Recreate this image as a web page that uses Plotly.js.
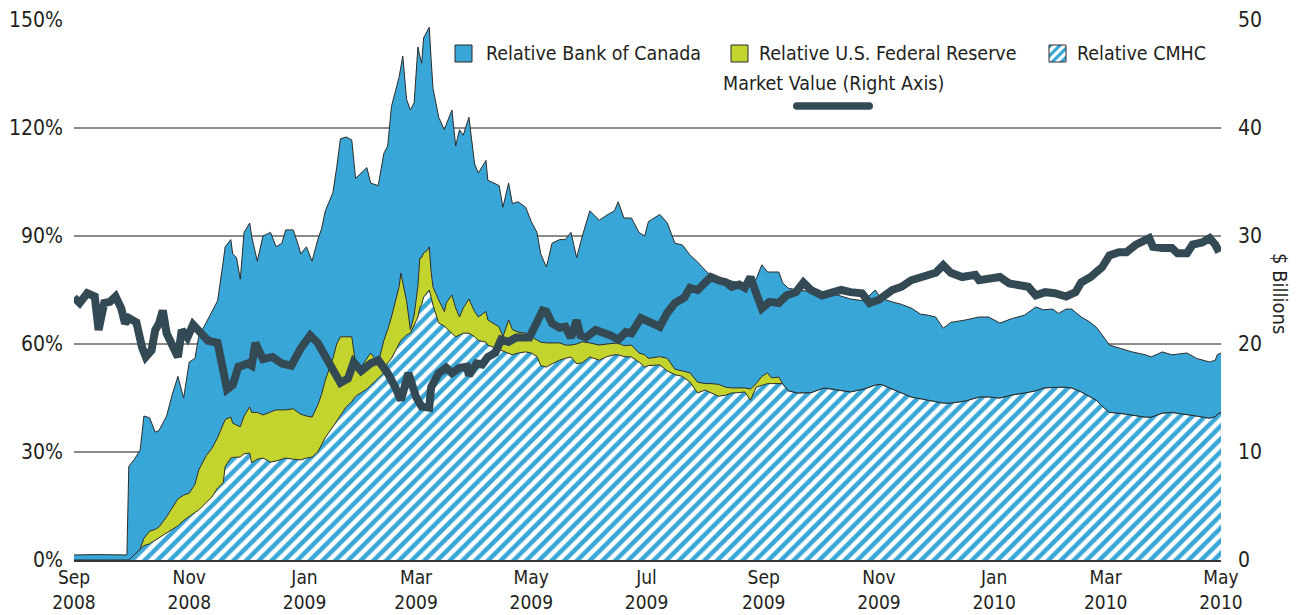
<!DOCTYPE html>
<html>
<head>
<meta charset="utf-8">
<script src="https://cdn.plot.ly/plotly-3.0.1.min.js"></script>
<style>
  html, body { margin: 0; padding: 0; background: #ffffff; }
  #chart { width: 1300px; height: 615px; }
</style>
</head>
<body>
<div id="chart"></div>
<script>
// ---------------- DATA ----------------
const dates = [
  '2008-09-01','2008-09-14','2008-09-29','2008-09-30','2008-10-03','2008-10-06','2008-10-08','2008-10-11','2008-10-14','2008-10-16',
  '2008-10-20','2008-10-23','2008-10-26','2008-10-29','2008-11-01','2008-11-04','2008-11-06','2008-11-10','2008-11-13','2008-11-16',
  '2008-11-19','2008-11-20','2008-11-23','2008-11-24','2008-11-26','2008-11-28','2008-11-30','2008-12-03','2008-12-04','2008-12-07',
  '2008-12-10','2008-12-14','2008-12-17','2008-12-20','2008-12-22','2008-12-26','2008-12-29','2008-12-30','2009-01-02','2009-01-05',
  '2009-01-08','2009-01-10','2009-01-12','2009-01-16','2009-01-18','2009-01-20','2009-01-23','2009-01-26','2009-01-28','2009-01-31',
  '2009-02-03','2009-02-05','2009-02-09','2009-02-12','2009-02-14','2009-02-16','2009-02-20','2009-02-21','2009-02-22','2009-02-24',
  '2009-02-26','2009-02-28','2009-03-02','2009-03-03','2009-03-04','2009-03-05','2009-03-07','2009-03-08','2009-03-09','2009-03-10',
  '2009-03-13','2009-03-16','2009-03-17','2009-03-20','2009-03-22','2009-03-24','2009-03-26','2009-03-29','2009-04-01','2009-04-03',
  '2009-04-07','2009-04-08','2009-04-14','2009-04-16','2009-04-19','2009-04-21','2009-04-24','2009-04-28','2009-05-01','2009-05-04',
  '2009-05-06','2009-05-09','2009-05-12','2009-05-16','2009-05-19','2009-05-22','2009-05-25','2009-05-28','2009-06-01','2009-06-06',
  '2009-06-10','2009-06-14','2009-06-16','2009-06-19','2009-06-23','2009-06-27','2009-06-30','2009-07-02','2009-07-08','2009-07-12',
  '2009-07-16','2009-07-20','2009-07-24','2009-07-28','2009-08-01','2009-08-04','2009-08-08','2009-08-12','2009-08-15','2009-08-19',
  '2009-08-22','2009-08-25','2009-08-28','2009-08-31','2009-09-03','2009-09-05','2009-09-09','2009-09-11','2009-09-14','2009-09-19',
  '2009-09-26','2009-10-03','2009-10-10','2009-10-17','2009-10-24','2009-10-30','2009-11-02','2009-11-08','2009-11-13','2009-11-18',
  '2009-11-23','2009-11-27','2009-12-01','2009-12-05','2009-12-09','2009-12-17','2009-12-24','2009-12-29','2010-01-04','2010-01-10',
  '2010-01-17','2010-01-23','2010-01-27','2010-02-01','2010-02-04','2010-02-08','2010-02-11','2010-02-16','2010-02-20','2010-02-24',
  '2010-02-27','2010-03-03','2010-03-08','2010-03-15','2010-03-22','2010-03-25','2010-03-31','2010-04-05','2010-04-13','2010-04-18',
  '2010-04-25','2010-04-28','2010-04-29','2010-05-01'
];

// Relative CMHC (%), bottom layer
const cmhc = [
  0,0,0,0,1.5,3,4,4.5,5.5,6,
  7.5,8.3,9.5,11,12,13,13.9,16,17.5,20,
  21.5,26,28.3,28.5,28.6,28.6,29.5,29.7,27,28,
  28.3,27.2,27.5,28,28.3,28,27.8,27.8,28.3,28.6,
  30,32,34,37,38.5,40,42.5,44,45.5,46.5,
  47.5,48.5,50.5,52,54.7,56,60,61,61.5,62.5,
  63,65.5,67.5,70,71,73,74.5,75,73,70.8,
  65.8,65,64.4,63,62,62.5,63,63,62,61,
  60.5,59.7,58.5,58,57.5,57,57.5,57.8,57.5,56.5,
  54,53.6,54.5,55.5,56,56.4,54.5,54.8,56.4,55.5,
  56.5,57,57,56.5,56.4,55,53.6,54,54.2,52.5,
  51.5,51,49.4,46.4,47.2,46.5,45.5,45.8,46.4,46.5,
  46.7,44.4,48,48.5,49,49,49,49,47,46.4,
  46.5,47.8,47.2,46.7,47.5,48.6,48.8,47.5,46.5,45.3,
  44.8,44.4,44.2,43.6,43.6,44.2,45.3,45.3,45,45.8,
  46.4,47,47.8,48,48,48,47.8,46.7,45.5,44.4,
  42.8,41,40.8,40.3,39.7,39.7,40.8,41,40.5,40,
  39.4,39.8,40.5,41
];

// Relative U.S. Federal Reserve (%), middle layer
const fed = [
  0,0,0,0,0,0,2,3.5,3,3.2,
  4.5,6.4,7.5,7,6.6,8,11.1,13,13.5,14,
  16.5,13,11.4,9.5,8.9,8.4,10.5,12.8,14,13,
  12,13.8,14.2,13.7,13.4,14,13,12.7,11.7,11.1,
  13,14,16,19,21.5,22,19.5,18,9.2,7.1,
  8.5,9,4.2,9,9.3,11.5,15.8,18.7,15.5,9.5,
  1,2.5,8.5,13.9,13,12.3,11.5,12,7,5,
  6.4,4,7,10.6,8,5,7,9.5,7,6.5,
  8.5,7,6.2,4,9.2,7,5.8,5.2,4.5,4.5,
  6.5,6.7,5.8,4.8,3.7,3.3,5.5,5.8,3.9,4.2,
  3.5,3.3,3.3,3,3.3,2.5,3.4,2,2.3,3.5,
  1.5,1.5,2.6,3,1.8,2.5,3.3,2.2,1.4,1.3,
  1.1,3.1,1,2.5,3,1.6,1.8,0,0,0,
  0,0,0,0,0,0,0,0,0,0,
  0,0,0,0,0,0,0,0,0,0,
  0,0,0,0,0,0,0,0,0,0,
  0,0,0,0,0,0,0,0,0,0,
  0,0,0,0
];

// Relative Bank of Canada (%), top layer
const boc = [
  1.4,1.5,1.4,26,26.5,27.5,34,31.5,27,26.8,
  28,31.3,34,27,36.4,35,37,37,38,38,
  45,48,49.3,47,46.5,41,51,51.1,49,42,
  49.7,50,45.3,46.3,50,49.7,46.2,44.5,47,43.3,
  46,46,47,46,49,55,55.5,54.7,51.3,53.9,
  53,47.2,49.3,52,51,58.5,58.2,57.3,63,56,
  61,59,66.5,56.1,54,59.7,61,61,59,55.2,
  50.8,50.5,49.6,51.4,45,52,48,50.5,41,40,
  42,38.8,39.3,36,38,35,36.2,35,32,30,
  24.5,21.1,27.7,28.7,29.3,31.3,24,29.4,36.7,34.7,
  35.8,36.7,39.2,35.5,35.3,33.5,33,38,39.5,37.6,
  35,35,32.7,33.4,31.5,30,29.2,30,29.7,29.2,
  29.2,30,29,31,28,29.4,29.2,28,28.5,28.6,
  28,26.2,26.4,25.8,24.5,26.4,23.9,24.2,24.5,24.7,
  23.5,23.6,23.3,20.8,22.4,22.5,22.2,22.2,20.8,21.2,
  21.6,23.3,21.7,21.7,20.5,21.7,21.9,20.8,20.8,20.3,
  19.7,18.7,18.1,17.5,17.3,16.7,17,16,17,16,
  15.6,15.7,16.5,16.5
];

// Market value, $ billions (right axis)
const mvDates = [
  '2008-09-01','2008-09-04','2008-09-08','2008-09-12','2008-09-14','2008-09-17','2008-09-20','2008-09-23','2008-09-26','2008-09-28',
  '2008-09-30','2008-10-04','2008-10-07','2008-10-09','2008-10-12','2008-10-14','2008-10-16','2008-10-18','2008-10-20','2008-10-23',
  '2008-10-26','2008-10-28','2008-10-31','2008-11-03','2008-11-07','2008-11-11','2008-11-16','2008-11-19','2008-11-21','2008-11-24',
  '2008-11-27','2008-11-29','2008-12-02','2008-12-04','2008-12-06','2008-12-10','2008-12-15','2008-12-20','2008-12-25','2008-12-30',
  '2009-01-04','2009-01-08','2009-01-14','2009-01-17','2009-01-20','2009-01-24','2009-01-27','2009-01-31','2009-02-05','2009-02-09',
  '2009-02-14','2009-02-18','2009-02-21','2009-02-25','2009-03-01','2009-03-04','2009-03-08','2009-03-09','2009-03-13','2009-03-17',
  '2009-03-20','2009-03-24','2009-03-28','2009-03-29','2009-04-02','2009-04-05','2009-04-08','2009-04-12','2009-04-15','2009-04-19',
  '2009-04-23','2009-04-30','2009-05-04','2009-05-07','2009-05-09','2009-05-12','2009-05-16','2009-05-19','2009-05-22','2009-05-25',
  '2009-05-27','2009-05-30','2009-06-04','2009-06-09','2009-06-12','2009-06-16','2009-06-20','2009-06-23','2009-06-28','2009-07-03',
  '2009-07-08','2009-07-12','2009-07-16','2009-07-21','2009-07-24','2009-07-28','2009-08-01','2009-08-04','2009-08-08','2009-08-12',
  '2009-08-15','2009-08-19','2009-08-22','2009-08-25','2009-08-28','2009-08-31','2009-09-04','2009-09-09','2009-09-13','2009-09-18',
  '2009-09-22','2009-09-26','2009-10-02','2009-10-07','2009-10-12','2009-10-17','2009-10-23','2009-10-27','2009-11-01','2009-11-08',
  '2009-11-13','2009-11-18','2009-11-26','2009-12-01','2009-12-05','2009-12-09','2009-12-15','2009-12-22','2009-12-24','2009-12-29',
  '2010-01-04','2010-01-09','2010-01-14','2010-01-19','2010-01-23','2010-01-28','2010-02-02','2010-02-08','2010-02-13','2010-02-16',
  '2010-02-21','2010-02-27','2010-03-03','2010-03-08','2010-03-12','2010-03-17','2010-03-24','2010-03-26','2010-03-31','2010-04-05',
  '2010-04-08','2010-04-13','2010-04-16','2010-04-21','2010-04-25','2010-04-28','2010-04-30'
];
const marketValue = [
  24.3,23.8,24.7,24.4,21.3,23.8,23.9,24.4,23.3,21.9,
  22.4,22,19.7,18.8,19.4,21.3,21.9,23.1,21,19.9,
  18.8,21.3,20.6,21.8,21,20.3,20.1,17.9,15.8,16.2,
  17.9,18,18.2,18,20.1,18.6,18.8,18.2,18,19.6,
  20.8,20.1,18.3,17.3,16.4,16.8,18.3,17.5,18.2,18.5,
  17.3,16,14.8,17.3,15.1,14.2,14.1,16,17.3,17.8,
  17.3,17.8,17.9,17.1,18.2,18.1,18.8,19.2,20.4,20.2,
  20.6,20.6,21.9,23.1,23,21.9,21.5,21.6,20.6,22.2,
  20.8,20.6,21.3,21.1,20.8,20.4,21.1,21,22.4,22,
  21.6,22.9,23.8,24.3,25.2,25,25.6,26.2,25.9,25.7,
  25.3,25.5,25.2,26.2,24.7,23.3,23.9,23.8,24.5,24.8,
  25.7,25,24.5,24.7,25,24.8,24.7,23.8,24.1,25,
  25.3,25.9,26.4,26.6,27.3,26.6,26.2,26.4,25.9,26.1,
  26.2,25.6,25.5,25.3,24.5,24.8,24.7,24.4,24.8,25.7,
  26.2,27.1,28.2,28.5,28.5,29.2,29.8,29,28.9,28.9,
  28.4,28.4,29.2,29.4,29.8,29.2,28.5
];

const tickVals = ['2008-09-01','2008-11-01','2009-01-01','2009-03-01','2009-05-01','2009-07-01',
                  '2009-09-01','2009-11-01','2010-01-01','2010-03-01','2010-05-01'];
const tickText = ['Sep<br>2008','Nov<br>2008','Jan<br>2009','Mar<br>2009','May<br>2009','Jul<br>2009',
                  'Sep<br>2009','Nov<br>2009','Jan<br>2010','Mar<br>2010','May<br>2010'];
const leftTicks = [0, 30, 60, 90, 120, 150];
const leftTickText = ['0%', '30%', '60%', '90%', '120%', '150%'];
const rightTicks = [0, 10, 20, 30, 40, 50];

const seriesNames = ['Relative Bank of Canada', 'Relative U.S. Federal Reserve', 'Relative CMHC', 'Market Value (Right Axis)'];

// ---------------- STYLE ----------------
const BLUE = '#38a6d6';
const GREEN = '#c4d42e';
const DARK = '#334a54';
const EDGE = '#2b2b2b';
const TXT = '#231f20';
const COND = '"DejaVu Sans Condensed", "Liberation Sans Narrow", sans-serif';

// plot-area geometry (px) used only for the hand-drawn legend
const PL = 74, PW = 1147, PT = 20, PH = 540;
const px = x => (x - PL) / PW;
const py = y => (PT + PH - y) / PH;

const traces = [
  {
    x: dates, y: cmhc, name: seriesNames[2], type: 'scatter', mode: 'lines', stackgroup: 'one',
    line: { color: EDGE, width: 1 },
    fillcolor: '#ffffff',
    fillpattern: { shape: '/', fgcolor: BLUE, bgcolor: '#ffffff', size: 9, solidity: 0.5 }
  },
  {
    x: dates, y: fed, name: seriesNames[1], type: 'scatter', mode: 'lines', stackgroup: 'one',
    line: { color: EDGE, width: 1 }, fillcolor: GREEN
  },
  {
    x: dates, y: boc, name: seriesNames[0], type: 'scatter', mode: 'lines', stackgroup: 'one',
    line: { color: EDGE, width: 1 }, fillcolor: BLUE
  },
  {
    x: mvDates, y: marketValue, name: seriesNames[3], type: 'scatter', mode: 'lines', yaxis: 'y2',
    line: { color: DARK, width: 8 }
  }
];

// hand-built legend
function clipPoly(poly, f) {
  const out = [];
  for (let i = 0; i < poly.length; i++) {
    const P = poly[i], Q = poly[(i + 1) % poly.length];
    const fp = f(P), fq = f(Q);
    if (fp >= 0) out.push(P);
    if ((fp >= 0) !== (fq >= 0)) {
      const t = fp / (fp - fq);
      out.push([P[0] + t * (Q[0] - P[0]), P[1] + t * (Q[1] - P[1])]);
    }
  }
  return out;
}
function toPath(pts) {
  return 'M' + pts.map(p => px(p[0]).toFixed(5) + ',' + py(p[1]).toFixed(5)).join('L') + 'Z';
}
const SW = 17, SY = 45;
const swatchX = [455, 731, 1049];
const shapes = [];
shapes.push({ type: 'rect', xref: 'paper', yref: 'paper', x0: px(swatchX[0]), x1: px(swatchX[0] + SW), y0: py(SY + SW), y1: py(SY),
  fillcolor: BLUE, line: { color: EDGE, width: 1 } });
shapes.push({ type: 'rect', xref: 'paper', yref: 'paper', x0: px(swatchX[1]), x1: px(swatchX[1] + SW), y0: py(SY + SW), y1: py(SY),
  fillcolor: GREEN, line: { color: EDGE, width: 1 } });
shapes.push({ type: 'rect', xref: 'paper', yref: 'paper', x0: px(swatchX[2]), x1: px(swatchX[2] + SW), y0: py(SY + SW), y1: py(SY),
  fillcolor: '#ffffff', line: { width: 0 } });
[[0, 4], [9, 13.5], [18, 22.5], [27, 31.5]].forEach(([a, b]) => {
  const x0 = swatchX[2], y0 = SY;
  let sq = [[0, 0], [SW, 0], [SW, SW], [0, SW]];
  sq = clipPoly(sq, p => p[0] + p[1] - a);
  sq = clipPoly(sq, p => b - (p[0] + p[1]));
  if (sq.length > 2) {
    shapes.push({ type: 'path', xref: 'paper', yref: 'paper', path: toPath(sq.map(p => [x0 + p[0], y0 + p[1]])),
      fillcolor: BLUE, line: { width: 0 } });
  }
});
shapes.push({ type: 'rect', xref: 'paper', yref: 'paper', x0: px(swatchX[2]), x1: px(swatchX[2] + SW), y0: py(SY + SW), y1: py(SY),
  fillcolor: 'rgba(0,0,0,0)', line: { color: EDGE, width: 1 } });
// rounded line swatch for market value
(function () {
  const x0 = 793, x1 = 873, yc = 106, r = 3.8;
  const P = (x, y) => px(x).toFixed(5) + ',' + py(y).toFixed(5);
  const path = 'M' + P(x0 + r, yc - r) + ' L' + P(x1 - r, yc - r) +
    ' Q' + P(x1, yc - r) + ' ' + P(x1, yc) + ' Q' + P(x1, yc + r) + ' ' + P(x1 - r, yc + r) +
    ' L' + P(x0 + r, yc + r) + ' Q' + P(x0, yc + r) + ' ' + P(x0, yc) + ' Q' + P(x0, yc - r) + ' ' + P(x0 + r, yc - r) + ' Z';
  shapes.push({ type: 'path', xref: 'paper', yref: 'paper', path: path, fillcolor: DARK, line: { width: 0 } });
})();

const legFont = { family: COND, size: 19.5, color: TXT };
const annotations = [
  { text: seriesNames[0], x: px(484), y: py(53.5), xref: 'paper', yref: 'paper', xanchor: 'left', yanchor: 'middle', showarrow: false, font: legFont },
  { text: seriesNames[1], x: px(757), y: py(53.5), xref: 'paper', yref: 'paper', xanchor: 'left', yanchor: 'middle', showarrow: false, font: legFont },
  { text: seriesNames[2], x: px(1075), y: py(53.5), xref: 'paper', yref: 'paper', xanchor: 'left', yanchor: 'middle', showarrow: false, font: legFont },
  { text: seriesNames[3], x: px(833), y: py(83), xref: 'paper', yref: 'paper', xanchor: 'center', yanchor: 'middle', showarrow: false, font: legFont },
  { text: '$ Billions', x: px(1280), y: py(293), xref: 'paper', yref: 'paper', xanchor: 'center', yanchor: 'middle', showarrow: false,
    textangle: 90, font: { family: COND, size: 20, color: TXT } }
];

const yTickFont = { family: COND, size: 21, color: TXT };
const xTickFont = { family: COND, size: 19, color: TXT };

const layout = {
  width: 1300, height: 615,
  margin: { l: PL, r: 1300 - PL - PW, t: PT, b: 615 - PT - PH, pad: 0 },
  paper_bgcolor: '#ffffff', plot_bgcolor: '#ffffff',
  showlegend: false, hovermode: false,
  xaxis: {
    type: 'date', range: ['2008-09-01', '2010-05-01'],
    tickmode: 'array', tickvals: tickVals, ticktext: tickText,
    tickfont: xTickFont, ticks: '', showgrid: false, zeroline: false,
    showline: true, linecolor: '#333333', linewidth: 2, fixedrange: true,
    ticklabelstandoff: -1
  },
  yaxis: {
    range: [0, 150], tickmode: 'array', tickvals: leftTicks, ticktext: leftTickText,
    tickfont: yTickFont, ticks: '', showgrid: true, gridcolor: '#8a8a8a', gridwidth: 1.2,
    zeroline: false, showline: false, ticklabelstandoff: 10, fixedrange: true
  },
  yaxis2: {
    range: [0, 50], overlaying: 'y', side: 'right', tickmode: 'array', tickvals: rightTicks,
    tickfont: yTickFont, ticks: '', showgrid: false, zeroline: false, showline: false,
    ticklabelstandoff: 16, fixedrange: true
  },
  shapes: shapes,
  annotations: annotations
};

Plotly.newPlot('chart', traces, layout, { displayModeBar: false, staticPlot: true });
</script>
</body>
</html>
